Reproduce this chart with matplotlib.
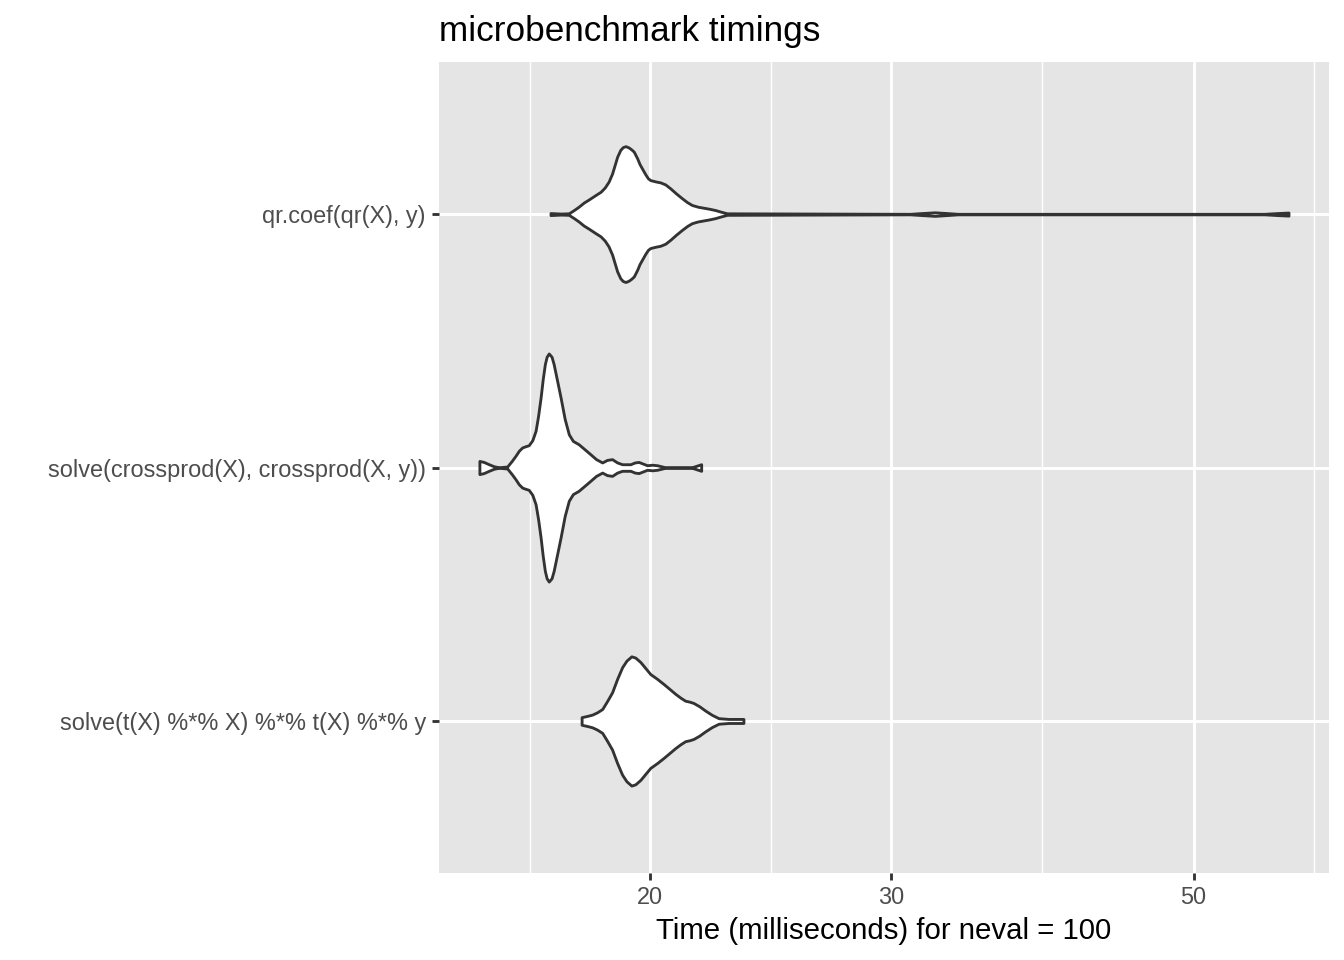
import numpy as np
import matplotlib.pyplot as plt

# expressions, bottom to top as drawn on the axis
exprs = [
    "solve(t(X) %*% X) %*% t(X) %*% y",
    "solve(crossprod(X), crossprod(X, y))",
    "qr.coef(qr(X), y)",
]

# violin outlines: time (ms) and half width (category units)
tx_time = [17.81, 17.98, 18.13, 18.28, 18.44, 18.59, 18.75, 18.91, 19.07,
           19.21, 19.37, 19.50, 19.67, 19.83, 20.00, 20.23, 20.45, 20.66,
           20.86, 21.04, 21.21, 21.37, 21.51, 21.72, 21.94, 22.19, 22.44,
           22.82, 23.40]
tx_half = [0.015, 0.020, 0.025, 0.034, 0.047, 0.078, 0.113, 0.166, 0.212,
           0.238, 0.255, 0.250, 0.232, 0.209, 0.185, 0.166, 0.146, 0.126,
           0.107, 0.092, 0.080, 0.076, 0.071, 0.058, 0.041, 0.024, 0.011,
           0.008, 0.008]

cp_time = [14.99, 15.10, 15.23, 15.36, 15.49, 15.71, 15.83, 15.93, 16.02,
           16.11, 16.20, 16.29, 16.39, 16.48, 16.55, 16.62, 16.68, 16.74,
           16.79, 16.85, 16.93, 16.99, 17.09, 17.19, 17.31, 17.43, 17.55,
           17.72, 17.90, 18.08, 18.25, 18.44, 18.59, 18.75, 18.91, 19.07,
           19.34, 19.48, 19.61, 19.89, 20.06, 20.23, 20.51, 21.45, 21.79]
cp_half = [0.026, 0.022, 0.013, 0.005, 0.001, 0.004, 0.026, 0.046, 0.066,
           0.079, 0.084, 0.088, 0.108, 0.145, 0.204, 0.276, 0.349, 0.408,
           0.437, 0.450, 0.437, 0.408, 0.342, 0.276, 0.191, 0.131, 0.105,
           0.092, 0.072, 0.052, 0.033, 0.020, 0.030, 0.033, 0.020, 0.013,
           0.013, 0.020, 0.022, 0.009, 0.011, 0.009, 0.001, 0.001, 0.013]

qr_time = [16.90, 17.20, 17.43, 17.58, 17.72, 17.87, 18.03, 18.23, 18.39,
           18.52, 18.64, 18.75, 18.83, 18.91, 19.01, 19.09, 19.18, 19.28,
           19.37, 19.45, 19.56, 19.64, 19.72, 19.83, 19.92, 20.00, 20.17,
           20.34, 20.51, 20.69, 20.88, 21.10, 21.28, 21.45, 21.67, 21.88,
           22.09, 22.31, 22.54, 22.76, 30.99, 31.62, 32.32, 32.98, 33.60,
           56.35, 57.60, 58.68]
qr_half = [0.004, 0.002, 0.003, 0.016, 0.029, 0.045, 0.058, 0.075, 0.088,
           0.105, 0.128, 0.160, 0.193, 0.226, 0.253, 0.264, 0.268, 0.263,
           0.255, 0.246, 0.220, 0.197, 0.180, 0.157, 0.141, 0.134, 0.129,
           0.125, 0.117, 0.101, 0.082, 0.062, 0.047, 0.036, 0.029, 0.025,
           0.021, 0.016, 0.009, 0.003, 0.001, 0.004, 0.007, 0.004, 0.001,
           0.001, 0.004, 0.006]

x_breaks = [20, 30, 50]

profiles = [(tx_time, tx_half), (cp_time, cp_half), (qr_time, qr_half)]

plt.rcParams['font.family'] = ['Liberation Sans', 'DejaVu Sans']

fig = plt.figure(figsize=(7, 5), dpi=192)
ax = fig.add_axes([0.3266, 0.0906, 0.6622, 0.8448])
ax.set_facecolor('#E5E5E5')
for s in ax.spines.values():
    s.set_visible(False)

ax.set_xscale('log')

# limits: data range plus 5% on the log scale
all_t = np.log10(np.concatenate([tx_time, cp_time, qr_time]))
lo, hi = all_t.min(), all_t.max()
pad = 0.05 * (hi - lo)
ax.set_xlim(10 ** (lo - pad), 10 ** (hi + pad))
ax.set_ylim(0.4, 3.6)

# ggplot-style minor breaks, halfway between majors on the log scale
lb = np.log10(x_breaks)
step = lb[1] - lb[0]
ext = np.concatenate([[lb[0] - step], lb, [lb[-1] + step]])
minor = 10 ** ((ext[:-1] + ext[1:]) / 2)

for m in minor:
    ax.axvline(m, color='white', lw=0.53, zorder=0)
for b in x_breaks:
    ax.axvline(b, color='white', lw=1.07, zorder=0)
for i in range(len(exprs)):
    ax.axhline(i + 1, color='white', lw=1.07, zorder=0)

for i, (t, h) in enumerate(profiles):
    t = np.array(t)
    h = np.array(h)
    ax.fill_between(t, i + 1 - h, i + 1 + h, facecolor='white',
                    edgecolor='#333333', lw=1.07, zorder=2,
                    joinstyle='round')

ax.set_xticks(x_breaks)
ax.set_xticklabels([str(b) for b in x_breaks])
ax.xaxis.set_minor_locator(plt.NullLocator())
ax.set_yticks(range(1, len(exprs) + 1))
ax.set_yticklabels(exprs)
ax.tick_params(axis='both', length=2.75, width=1.07, color='#333333',
               labelsize=8.8, labelcolor='#4D4D4D', pad=2.2)

ax.set_xlabel("Time (milliseconds) for neval = 100", fontsize=11,
              color='black', labelpad=3)
fig.text(0.3266, 0.957, "microbenchmark timings", fontsize=13.2,
         ha='left', va='baseline')

fig.savefig('out.png', dpi=192, facecolor='white')
